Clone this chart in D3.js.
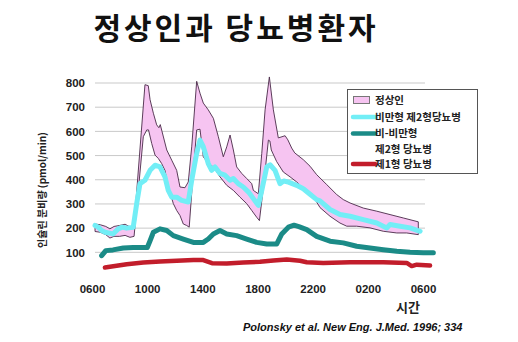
<!DOCTYPE html>
<html><head><meta charset="utf-8">
<script src="https://cdn.jsdelivr.net/npm/d3@7"></script>
<style>
html,body{margin:0;padding:0;background:#fff;}
svg{display:block;}
</style></head>
<body>
<svg id="chart" width="518" height="342"></svg>
<script>
// ---- data (hours from 06:00 day 1 = 6 to 06:00 day 2 = 30; insulin secretion pmol/min)
const titleText = "정상인과 당뇨병환자";
const yTitle = "인슐린 분비량 (pmol/min)";
const xTitle = "시간";
const citation = "Polonsky et al. New Eng. J.Med. 1996; 334";
const yTicks = [100, 200, 300, 400, 500, 600, 700, 800];
const xTicks = [6, 10, 14, 18, 22, 26, 30];
const xTickLabels = ["0600", "1000", "1400", "1800", "2200", "0200", "0600"];
const seriesNames = ["정상인", "비만형 제2형당뇨병", "비-비만형|제2형 당뇨병", "제1형 당뇨병"];

const normalUpperHours = [6.22,6.6,7.0,7.3,7.6,8.0,8.4,8.75,9.05,9.84,10.08,10.21,10.45,10.69,10.85,10.95,11.42,11.78,12.14,12.38,12.74,12.98,13.23,13.59,13.83,14.07,14.43,14.8,15.16,15.52,15.77,16.01,16.25,16.49,16.86,17.22,17.58,17.7,18.06,18.31,18.55,18.86,19.15,19.51,20.0,20.2,20.48,20.7,21.32,21.81,22.29,23.02,23.74,24.22,24.71,25.67,26.65,27.61,28.57,29.66];
const normalUpper = [217,214,207,197,207,211,216,205,212,793,789,731,675,627,615,628,523,481,439,370,367,391,536,807,758,717,689,654,578,495,536,585,523,453,426,405,384,356,342,509,689,825,689,573,582,565,531,511,483,456,421,380,339,318,304,283,270,256,242,226];
const normalLowerHours = [6.22,6.6,7.0,7.3,7.6,8.0,8.4,8.75,9.05,9.72,9.97,10.1,10.33,10.57,10.81,11.05,11.29,11.53,11.9,12.14,12.38,12.62,12.86,13.05,13.35,13.59,13.83,14.07,14.43,14.8,15.28,15.77,16.25,16.73,17.22,17.58,17.94,18.14,18.43,18.79,18.9,19.0,19.39,19.87,20.36,20.84,21.32,21.81,22.29,22.53,23.26,23.98,24.47,25.19,26.16,27.12,28.1,28.82,29.66];
const normalLower = [186,183,173,159,166,166,170,162,166,578,606,606,550,502,488,467,439,370,301,273,252,217,211,204,439,606,609,495,467,453,412,377,356,328,301,273,245,231,370,564,560,523,475,432,412,391,365,342,308,285,249,221,208,208,201,187,180,180,173];

const obeseHours = [6.22,6.45,6.7,6.95,7.52,7.9,8.2,8.5,8.99,9.24,9.48,9.84,10.21,10.57,10.93,11.29,11.53,11.78,12.14,12.5,12.98,13.23,13.59,13.83,14.07,14.43,14.68,14.92,15.28,15.64,16.01,16.25,16.6,16.97,17.35,17.7,18.06,18.31,18.67,18.91,19.27,19.63,19.9,20.24,20.84,21.32,21.81,22.29,22.53,23.26,23.98,24.71,25.67,26.65,27.37,27.61,28.34,29.06,29.79];
const obeseValues = [211,204,190,183,176,197,204,200,204,301,384,398,439,460,453,412,356,328,328,315,308,398,509,564,537,467,439,453,426,419,398,405,384,370,349,322,294,356,453,462,439,384,395,390,377,363,340,318,313,277,256,249,235,221,201,215,208,201,187];

const nonObeseHours = [6.7,7.0,7.52,8.27,8.99,10.01,10.21,10.45,10.93,11.42,11.9,12.62,13.35,14.07,14.43,14.8,15.28,15.77,16.49,17.22,17.94,18.67,19.39,19.76,20.24,20.65,21.0,21.57,22.29,23.26,24.22,25.19,26.16,27.12,28.1,29.06,30.02,30.75];
const nonObeseValues = [86,107,110,118,120,120,148,183,197,190,169,155,141,141,155,176,190,176,169,155,141,134,134,176,204,212,206,194,166,146,139,125,118,111,104,100,98,98];

const type1Hours = [6.94,7.3,8.52,9.72,10.93,12.14,13.35,14.07,14.7,15.77,16.97,18.18,19.15,20.12,21.08,21.57,22.77,24.71,27.12,28.82,29.18,29.55,30.51];
const type1Values = [37,40,51,58,62,65,68,68,55,54,58,61,66,70,65,59,56,59,59,56,43,49,45];

// ---- drawing
const svg = d3.select("#chart");
const x = d3.scaleLinear().domain([6, 30]).range([92, 423]);
const y = d3.scaleLinear().domain([0, 800]).range([276.5, 83]);
const KR = "'Noto Sans CJK KR','Noto Sans',sans-serif";
const AR = "'Liberation Sans',Arial,sans-serif";

// title
svg.append("text").attr("x", 236).attr("y", 39).attr("text-anchor", "middle")
  .attr("font-family", KR).attr("font-weight", "bold").attr("font-size", 30)
  .attr("letter-spacing", 3).attr("fill", "#111").text(titleText);

// gridlines
svg.append("g").selectAll("line").data(yTicks).join("line")
  .attr("x1", 95).attr("x2", 425)
  .attr("y1", d => y(d)).attr("y2", d => y(d))
  .attr("stroke", "#c9c9c9").attr("stroke-width", 1);

// y axis labels (axis domain hidden)
const yAxis = svg.append("g").attr("transform", "translate(95,0)")
  .call(d3.axisLeft(y).tickValues(yTicks).tickSize(0).tickPadding(10));
yAxis.select(".domain").remove();
yAxis.selectAll("text").attr("font-family", AR).attr("font-weight", "bold")
  .attr("font-size", 11.5).attr("fill", "#222");

// x axis labels
const xAxis = svg.append("g").attr("transform", "translate(0,282)")
  .call(d3.axisBottom(x).tickValues(xTicks).tickSize(0).tickPadding(3)
    .tickFormat((d, i) => xTickLabels[i]));
xAxis.select(".domain").remove();
xAxis.selectAll("text").attr("font-family", AR).attr("font-weight", "bold")
  .attr("font-size", 11.5).attr("fill", "#222");

// axis titles
svg.append("text").attr("transform", "translate(46,190) rotate(-90)")
  .attr("text-anchor", "middle").attr("font-family", KR).attr("font-weight", "bold")
  .attr("font-size", 10).attr("fill", "#222").text(yTitle);
svg.append("text").attr("x", 408).attr("y", 312).attr("text-anchor", "middle")
  .attr("font-family", KR).attr("font-weight", "bold").attr("font-size", 13)
  .attr("fill", "#222").text(xTitle);
svg.append("text").attr("x", 243).attr("y", 331)
  .attr("font-family", AR).attr("font-weight", "bold").attr("font-style", "italic")
  .attr("font-size", 11).attr("fill", "#111").text(citation);

// normal range band
const upperPts = normalUpperHours.map((h, i) => [h, normalUpper[i]]);
const lowerPts = normalLowerHours.map((h, i) => [h, normalLower[i]]).reverse();
const poly = d3.line().x(d => x(d[0])).y(d => y(d[1]));
svg.append("path").attr("d", poly(upperPts.concat(lowerPts)) + "Z")
  .attr("fill", "#f6c4f1").attr("stroke", "#4a2a48").attr("stroke-width", 0.9)
  .attr("stroke-linejoin", "round");

const line = d3.line().x(d => x(d[0])).y(d => y(d[1])).curve(d3.curveLinear);
function drawSeries(hours, vals, color, w) {
  svg.append("path").attr("d", line(hours.map((h, i) => [h, vals[i]])))
    .attr("fill", "none").attr("stroke", color).attr("stroke-width", w)
    .attr("stroke-linejoin", "round").attr("stroke-linecap", "round");
}
drawSeries(obeseHours, obeseValues, "#72eef6", 5);
drawSeries(nonObeseHours, nonObeseValues, "#1b8b87", 5);
drawSeries(type1Hours, type1Values, "#c21d2b", 4.5);

// legend
const lg = svg.append("g");
lg.append("rect").attr("x", 347.5).attr("y", 89.5).attr("width", 130).attr("height", 84)
  .attr("fill", "#fff").attr("stroke", "#555").attr("stroke-width", 1);
lg.append("rect").attr("x", 353.5).attr("y", 96.5).attr("width", 16).attr("height", 7)
  .attr("fill", "#f6c4f1").attr("stroke", "#777").attr("stroke-width", 1);
const legColors = ["#72eef6", "#1b8b87", "#c21d2b"];
const legLineY = [117, 133.5, 164];
legColors.forEach((c, i) => {
  lg.append("line").attr("x1", 353).attr("x2", 375).attr("y1", legLineY[i]).attr("y2", legLineY[i])
    .attr("stroke", c).attr("stroke-width", 4.5).attr("stroke-linecap", "round");
});
const legFont = 10.5;
function legText(xp, yp, t) {
  return lg.append("text").attr("x", xp).attr("y", yp)
    .attr("font-family", KR).attr("font-weight", "bold").attr("font-size", legFont)
    .attr("fill", "#222").text(t);
}
legText(375, 104, seriesNames[0]);
legText(375, 121, seriesNames[1]);
seriesNames[2].split("|").forEach((t, i) => legText(375, 137 + i * 15.5, t));
legText(375, 168.2, seriesNames[3]);
</script>
</body></html>
